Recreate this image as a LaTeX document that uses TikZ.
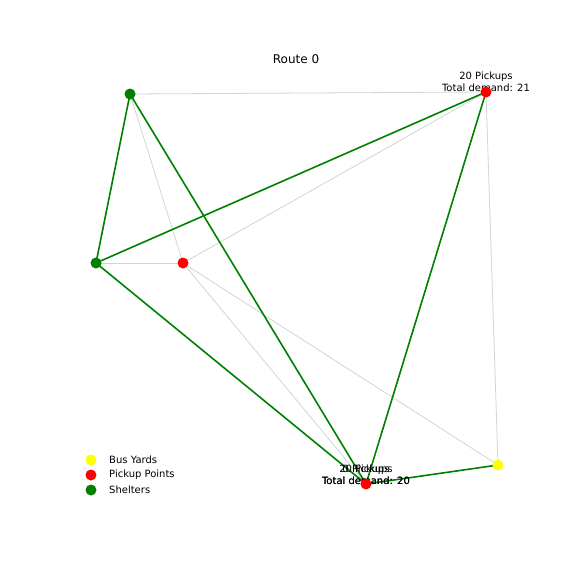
\documentclass[tikz,border=0pt]{standalone}
\usepackage{fontspec}
\setmainfont{DejaVu Sans}
\definecolor{edgegray}{RGB}{205,215,215}
\definecolor{mplgreen}{RGB}{0,128,0}
\definecolor{mplyellow}{RGB}{255,255,0}
\definecolor{mplred}{RGB}{255,0,0}
\tikzset{
  dot/.style={circle, inner sep=0pt, minimum size=11pt},
  shelter/.style={dot, fill=mplgreen},
  pickup/.style={dot, fill=mplred},
  yard/.style={dot, fill=mplyellow},
  thinedge/.style={draw=edgegray, line width=0.8pt},
  route/.style={draw=mplgreen, line width=1.6pt},
  lbl/.style={align=center, inner sep=0pt, font=\fontsize{10}{12}\selectfont},
  legtxt/.style={anchor=west, inner sep=0pt, font=\fontsize{10}{12}\selectfont}
}
\begin{document}
\begin{tikzpicture}[x=1pt,y=-1pt]
\useasboundingbox (0,0) rectangle (576,576);
\fill[white] (0,0) rectangle (576,576);
% node positions
\coordinate (g1) at (130,94);
\coordinate (g2) at (96,263);
\coordinate (r1) at (183,263);
\coordinate (r2) at (486,92);
\coordinate (r3) at (366,484);
\coordinate (y1) at (498,465);
% thin edges
\draw[thinedge] (g1) -- (r2);
\draw[thinedge] (g1) -- (r1);
\draw[thinedge] (g2) -- (r1);
\draw[thinedge] (r1) -- (r2);
\draw[thinedge] (r1) -- (r3);
\draw[thinedge] (r1) -- (y1);
\draw[thinedge] (r2) -- (y1);
% route edges
\draw[route] (g1) -- (g2);
\draw[route] (g1) -- (r3);
\draw[route] (g2) -- (r2);
\draw[route] (g2) -- (r3);
\draw[route] (r2) -- (r3);
\draw[route] (r3) -- (y1);
% labels
\node[lbl] (L2) at (486,82) {20 Pickups\\Total demand: 21};
\node[lbl] (L3a) at (366,474.5) {20 Pickups\\Total demand: 20};
\node[lbl] (L3b) at (366,474.5) {0 Pickups\\Total demand: 20};
% nodes
\node[shelter] (G1) at (g1) {};
\node[shelter] (G2) at (g2) {};
\node[pickup] (R1) at (r1) {};
\node[pickup] (R2) at (r2) {};
\node[pickup] (R3) at (r3) {};
\node[yard] (Y1) at (y1) {};
% title
\node[inner sep=0pt, font=\fontsize{12}{14}\selectfont] (title) at (296,59) {Route 0};
% legend
\node[yard] (ly) at (91,460) {};
\node[pickup] (lp) at (91,475) {};
\node[shelter] (ls) at (91,490) {};
\node[legtxt] (lyt) at (109,460) {Bus Yards};
\node[legtxt] (lpt) at (109,475) {Pickup Points};
\node[legtxt] (lst) at (109,490) {Shelters};
\end{tikzpicture}
\end{document}
